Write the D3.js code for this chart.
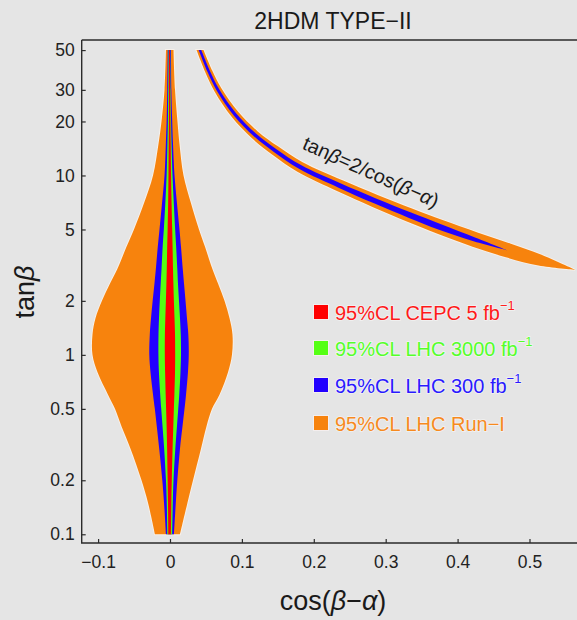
<!DOCTYPE html>
<html><head><meta charset="utf-8">
<script src="https://cdn.jsdelivr.net/npm/d3@7"></script>
<style>
html,body{margin:0;padding:0;background:#e5e5e5;}
svg{display:block;font-family:"Liberation Sans",Arial,Helvetica,sans-serif;}
</style></head>
<body>
<svg id="c" width="577" height="620"></svg>
<script>
// ---------- DATA ----------
const titleText = "2HDM TYPE\u2212II";
const xTicks = [-0.1, 0, 0.1, 0.2, 0.3, 0.4, 0.5];
const xTickLabels = ["\u22120.1", "0", "0.1", "0.2", "0.3", "0.4", "0.5"];
const yTicks = [0.1, 0.2, 0.5, 1, 2, 5, 10, 20, 30, 50];
const yTickLabels = ["0.1", "0.2", "0.5", "1", "2", "5", "10", "20", "30", "50"];

// central (SM-like) region: tanβ levels and band edges in cos(β−α)
const violinTanB = [50,30,20,15,10,7,5,4,3,2.5,2,1.6,1.3,1,0.8,0.6,0.5,0.4,0.3,0.2,0.15,0.1];
const runIMin = [-0.0056,-0.0076,-0.0118,-0.0160,-0.0236,-0.0362,-0.0501,-0.0605,-0.0734,-0.0834,-0.0946,-0.1036,-0.1078,-0.1078,-0.1008,-0.0862,-0.0765,-0.0675,-0.0549,-0.0396,-0.0306,-0.0209];
const runIMax = [0.0049,0.0070,0.0104,0.0132,0.0188,0.0292,0.0403,0.0487,0.0591,0.0668,0.0758,0.0828,0.0869,0.0862,0.0807,0.0688,0.0584,0.0508,0.0431,0.0320,0.0243,0.0139];
const lhc300Min = [-0.0031,-0.0038,-0.0047,-0.0058,-0.0076,-0.0111,-0.0146,-0.0170,-0.0197,-0.0216,-0.0241,-0.0264,-0.0281,-0.0288,-0.0271,-0.0236,-0.0211,-0.0184,-0.0150,-0.0107,-0.0083,-0.0056];
const lhc300Max = [0.0014,0.0019,0.0031,0.0042,0.0063,0.0097,0.0132,0.0153,0.0178,0.0195,0.0216,0.0236,0.0255,0.0261,0.0250,0.0223,0.0202,0.0174,0.0139,0.0102,0.0081,0.0056];
const lhc3000Min = [-0.0019,-0.0024,-0.0029,-0.0036,-0.0047,-0.0065,-0.0086,-0.0102,-0.0118,-0.0129,-0.0142,-0.0153,-0.0160,-0.0161,-0.0154,-0.0136,-0.0122,-0.0104,-0.0081,-0.0056,-0.0045,-0.0036];
const lhc3000Max = [0.0003,0.0008,0.0015,0.0022,0.0035,0.0053,0.0072,0.0086,0.0102,0.0111,0.0125,0.0139,0.0150,0.0153,0.0146,0.0129,0.0115,0.0097,0.0074,0.0049,0.0039,0.0031];
const cepcMin = [-0.0013,-0.0014,-0.0015,-0.0018,-0.0021,-0.0026,-0.0033,-0.0039,-0.0045,-0.0050,-0.0057,-0.0065,-0.0071,-0.0072,-0.0068,-0.0060,-0.0054,-0.0047,-0.0040,-0.0033,-0.0028,-0.0022];
const cepcMax = [0.0000,0.0003,0.0006,0.0010,0.0015,0.0022,0.0031,0.0036,0.0042,0.0047,0.0054,0.0063,0.0070,0.0072,0.0070,0.0061,0.0054,0.0046,0.0036,0.0025,0.0019,0.0014];

// wrong-sign branch, tanβ ≈ 2/cos(β−α): band edges as (cos, tanβ)
const wsRunIOuterCos  = [0.0466,0.0587,0.0712,0.0948,0.1224,0.1501,0.1844,0.2399,0.2886,0.3374,0.3791,0.4276,0.4731,0.5167,0.5633];
const wsRunIOuterTanB = [50,38.46,30.72,22.62,17.55,14.53,11.86,9.40,7.79,6.52,5.64,4.81,4.17,3.61,2.98];
const wsRunIInnerCos  = [0.0369,0.0498,0.0624,0.0860,0.1140,0.1420,0.1772,0.2330,0.2816,0.3302,0.3720,0.4208,0.4671,0.5125,0.5633];
const wsRunIInnerTanB = [50,37.06,29.23,21.16,16.11,13.08,10.49,8.17,6.68,5.52,4.73,4.01,3.50,3.15,2.98];
const ws300OuterCos   = [0.0435,0.0559,0.0684,0.0921,0.1198,0.1476,0.1822,0.2378,0.2866,0.3353,0.3770,0.4251,0.4701];
const ws300OuterTanB  = [50,38.01,30.25,22.17,17.09,14.06,11.42,9.01,7.45,6.21,5.35,4.50,3.82];
const ws300InnerCos   = [0.0399,0.0526,0.0651,0.0887,0.1166,0.1445,0.1794,0.2351,0.2837,0.3323,0.3741,0.4233,0.4701];
const ws300InnerTanB  = [50,37.50,29.69,21.60,16.55,13.51,10.89,8.52,6.99,5.80,4.98,4.29,3.82];

const legendLabels = ["95%CL CEPC 5 fb", "95%CL LHC 3000 fb", "95%CL LHC 300 fb", "95%CL LHC Run\u2212I"];
const legendSup = ["\u22121", "\u22121", "\u22121", ""];

// ---------- STYLE ----------
const C = {red:"#ff0000", green:"#55ff14", blue:"#2200ff", orange:"#f7830d"};
const legendColors = [C.red, C.green, C.blue, C.orange];
const legendTextColors = ["#ff1a1a", "#55ff2a", "#2a1aff", "#f78a1e"];

const svg = d3.select("#c");
const L = 81.7, T = 40, B = 543;
const x = d3.scaleLinear().domain([-0.1228, 0.6]).range([L, L + 719 * 0.7228]);
const y = d3.scaleLog().domain([0.0894, 56.9]).range([B, T]);

const plot = svg.append("g");
plot.append("clipPath").attr("id","clip").append("rect")
  .attr("x", L).attr("y", T).attr("width", 577 - L).attr("height", B - T);
const g = plot.append("g").attr("clip-path","url(#clip)");

function band(minArr, maxArr, color) {
  const rows = violinTanB.map((t, i) => ({t, a: minArr[i], b: maxArr[i]}));
  const area = d3.area().y(d => y(d.t)).x0(d => x(d.a)).x1(d => x(d.b)).curve(d3.curveCatmullRom);
  return {path: area(rows), color};
}
function wsBand(oc, ot, ic, it, color) {
  const pts = oc.map((c, i) => [c, ot[i]]);
  const inner = ic.map((c, i) => [c, it[i]]).reverse();
  const line = d3.line().x(d => x(d[0])).y(d => y(d[1])).curve(d3.curveCatmullRom);
  const p = line(pts) + "L" + line(inner).slice(1) + "Z";
  return {path: p, color};
}
const orangeBands = [
  band(runIMin, runIMax, C.orange),
  wsBand(wsRunIOuterCos, wsRunIOuterTanB, wsRunIInnerCos, wsRunIInnerTanB, C.orange)
];
orangeBands.forEach(b => g.append("path").attr("d", b.path).attr("fill","none")
  .attr("stroke","#fbf3ea").attr("stroke-width",2).attr("stroke-opacity",0.8));
orangeBands.forEach(b => g.append("path").attr("d", b.path).attr("fill", b.color));
const inner = [
  band(lhc300Min, lhc300Max, C.blue),
  wsBand(ws300OuterCos, ws300OuterTanB, ws300InnerCos, ws300InnerTanB, C.blue),
  band(lhc3000Min, lhc3000Max, C.green),
  band(cepcMin, cepcMax, C.red)
];
inner.forEach(b => g.append("path").attr("d", b.path).attr("fill", b.color));

// frame
const axisColor = "#2b2b2b";
svg.append("path").attr("d", `M${L},${T}H577M${L},${T}V${B}H577`)
  .attr("fill","none").attr("stroke",axisColor).attr("stroke-width",1.4);

const xAxis = d3.axisBottom(x).tickValues(xTicks).tickSize(-4).tickPadding(9)
  .tickFormat((d, i) => xTickLabels[i]);
const gx = svg.append("g").attr("transform", `translate(0,${B})`).call(xAxis);
const yAxis = d3.axisLeft(y).tickValues(yTicks).tickSize(-4).tickPadding(7)
  .tickFormat((d, i) => yTickLabels[i]);
const gy = svg.append("g").attr("transform", `translate(${L},0)`).call(yAxis);
[gx, gy].forEach(a => {
  a.select(".domain").remove();
  a.selectAll(".tick line").attr("stroke", axisColor).attr("stroke-width", 1.2);
  a.selectAll(".tick text").attr("fill", "#222").style("font-size","17.5px")
   .style("font-family", '"Liberation Sans",Arial,sans-serif');
});
gx.selectAll(".tick text").attr("dy", "0.9em");

// title
svg.append("text").attr("x", 333).attr("y", 29).attr("text-anchor","middle")
  .attr("fill","#1a1a1a").style("font-size","23px").text(titleText);

function richText(sel, parts) {
  parts.forEach(p => sel.append("tspan").style("font-style", p.i ? "italic" : "normal").text(p.t));
  return sel;
}
richText(svg.append("text").attr("x", 333).attr("y", 610).attr("text-anchor","middle")
  .attr("fill","#1a1a1a").style("font-size","27px"),
  [{t:"cos("},{t:"\u03b2",i:1},{t:"\u2212"},{t:"\u03b1",i:1},{t:")"}]);
richText(svg.append("text").attr("transform","translate(34,292) rotate(-90)").attr("text-anchor","middle")
  .attr("fill","#1a1a1a").style("font-size","27px"),
  [{t:"tan"},{t:"\u03b2",i:1}]);
richText(svg.append("text").attr("transform","translate(371,172) rotate(24)")
  .attr("text-anchor","middle").attr("dominant-baseline","central")
  .attr("fill","#1a1a1a").style("font-size","20px"),
  [{t:"tan"},{t:"\u03b2",i:1},{t:"=2/cos("},{t:"\u03b2",i:1},{t:"\u2212"},{t:"\u03b1",i:1},{t:")"}]);

// legend
const legY = [312, 348, 385, 423];
const leg = svg.append("g");
legendLabels.forEach((lab, i) => {
  leg.append("rect").attr("x", 313.5).attr("y", legY[i] - 7.5).attr("width", 15).attr("height", 15)
    .attr("fill", legendColors[i]).attr("stroke","#f4eeee").attr("stroke-width",1);
  const t = leg.append("text").attr("x", 335).attr("y", legY[i] + 7.5)
    .attr("fill", legendTextColors[i]).style("font-size","20px")
    .attr("stroke","#f6f6f6").attr("stroke-width",1.6).attr("stroke-opacity",0.8)
    .attr("paint-order","stroke").text(lab);
  if (legendSup[i]) {
    t.append("tspan").attr("dy", -10).style("font-size","13px").text(legendSup[i]);
  }
});
</script>
</body></html>
